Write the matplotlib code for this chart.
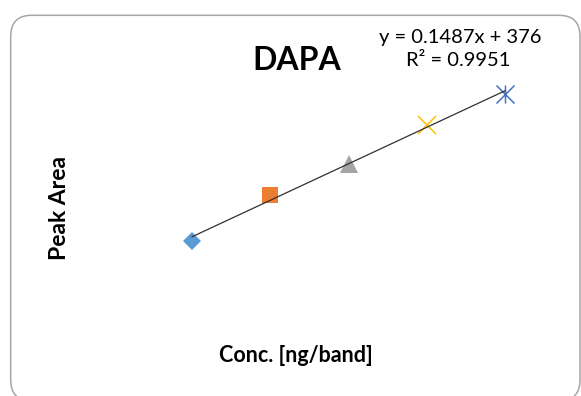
import matplotlib
matplotlib.use("Agg")
import matplotlib.pyplot as plt
import numpy as np
from matplotlib.patches import FancyBboxPatch
from matplotlib.path import Path
from matplotlib.transforms import IdentityTransform

# calibration data (x axis and y axis are hidden in the original)
conc = [2000, 4000, 6000, 8000, 10000]
area = [636, 1015, 1267, 1586, 1837]
slope = 0.1487
intercept = 376
r2 = 0.9951

colors = ["#5B9BD5", "#ED7D31", "#A5A5A5", "#FFC000", "#4472C4"]

# Excel style "star" marker: an x with a vertical bar through it
star = Path([(-0.5, -0.5), (0.5, 0.5), (-0.5, 0.5), (0.5, -0.5), (0, -0.5), (0, 0.5)],
            [Path.MOVETO, Path.LINETO, Path.MOVETO, Path.LINETO, Path.MOVETO, Path.LINETO])
styles = [
    dict(marker="D", ms=9, mew=0),
    dict(marker="s", ms=12, mew=0),
    dict(marker="^", ms=13, mew=0),
    dict(marker="x", ms=13, mew=1.1),
    dict(marker=star, ms=13, mew=1.1, mfc="none"),
]

W, H = 581, 396
fig = plt.figure(figsize=(W / 100, H / 100), dpi=100)
fig.patch.set_facecolor("white")

# rounded chart border, in pixels
box = FancyBboxPatch((10.7, -5), 569.3, H - 15.3 + 5,
                     boxstyle="round,pad=0,rounding_size=21",
                     transform=IdentityTransform(), fc="none", ec="#A6A6A6", lw=1.1)
fig.add_artist(box)

# plot area in pixels (image coords)
left, right, top, bottom = 100, 560, 50, 330
ax = fig.add_axes([left / W, (H - bottom) / H, (right - left) / W, (bottom - top) / H])
ax.set_xlim(-356.5, 11400.6)
ax.set_ylim(-86.8, 2194.6)
ax.axis("off")

for x, y, c, st in zip(conc, area, colors, styles):
    kw = dict(st)
    kw.setdefault("mfc", c)
    ax.plot([x], [y], linestyle="none", color=c, mec=c, zorder=2, **kw)

xs = np.array([conc[0], conc[-1]])
ax.plot(xs, slope * xs + intercept, color="#303030", lw=0.9, zorder=3)

font = ["Lato", "DejaVu Sans"]


def ftext(px, py, s, **kw):
    fig.text(px / W, 1 - py / H, s, family=font, ha="center", va="center", **kw)


ftext(296.5, 61, "DAPA", fontsize=23, fontweight="bold")
ftext(460, 38, "y = %.4fx + %d" % (slope, intercept), fontsize=14.5)
ftext(458, 61, "R² = %.4f" % r2, fontsize=14.5)
ftext(296, 355, "Conc. [ng/band]", fontsize=15.5, fontweight="bold")
ftext(60, 208, "Peak Area", fontsize=16.5, fontweight="bold", rotation=90)

fig.savefig("out.png", dpi=100)
